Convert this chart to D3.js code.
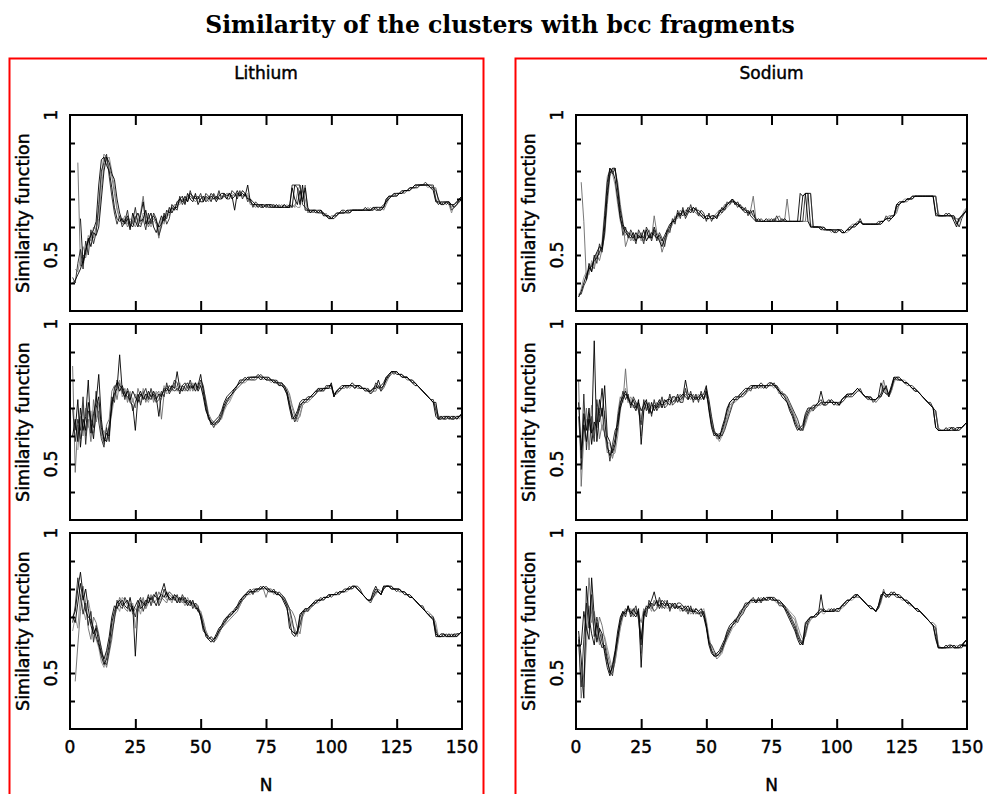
<!DOCTYPE html>
<html>
<head>
<meta charset="utf-8">
<script src="https://cdn.jsdelivr.net/npm/d3@7"></script>
<style>
  body { margin: 0; background: #fff; }
  svg { display: block; }
</style>
</head>
<body>
<svg id="chart" width="987" height="794"></svg>
<script>
// Cluster size N (x axis) and similarity values of five runs per panel.
const sizes = d3.range(1, 151);

// ---- Lithium, top panel ----
const li1a = [.40,.41,.43,.45,.48,.52,.55,.57,.59,.62, .75,.84,.85,.82,.80,.74,.67,.63,.62,.63, .61,.63,.59,.65,.62,.60,.64,.69,.61,.63, .65,.60,.58,.61,.64,.62,.66,.65,.67,.66, .69,.70,.71,.68,.72,.70,.69,.72,.68,.70, .71,.69,.70,.72,.71,.69,.71,.72,.72,.70, .72,.70,.71,.73,.71,.72,.71,.75,.69,.68, .68,.67,.68,.68,.67,.68,.68,.67,.67,.67, .67,.67,.67,.68,.67,.75,.74,.68,.75,.66, .66,.66,.66,.65,.66,.66,.64,.64,.63,.63, .64,.65,.65,.65,.65,.66,.66,.66,.66,.66, .66,.66,.66,.66,.66,.67,.67,.66,.67,.67, .70,.71,.71,.72,.72,.72,.72,.73,.73,.74, .74,.75,.75,.75,.75,.75,.75,.74,.73,.69, .69,.68,.69,.69,.68,.68,.68,.69,.70,.71];
const li1b = [null,null,.83,.46,.50,.49,.54,.58,.56,.60, .66,.78,.86,.85,.81,.78,.72,.66,.63,.61, .63,.60,.62,.61,.64,.62,.65,.71,.63,.60, .62,.63,.61,.56,.62,.63,.64,.66,.66,.68, .68,.69,.70,.70,.70,.71,.70,.69,.70,.71, .70,.70,.71,.70,.70,.70,.72,.71,.71,.72, .71,.71,.72,.71,.72,.71,.72,.71,.68,.68, .67,.68,.67,.68,.68,.67,.68,.68,.67,.67, .68,.67,.67,.67,.68,.67,.72,.75,.70,.75, .65,.66,.65,.66,.66,.65,.65,.64,.63,.64, .64,.65,.65,.66,.65,.65,.66,.66,.66,.66, .66,.66,.66,.67,.66,.66,.67,.67,.67,.66, .68,.70,.71,.71,.72,.72,.73,.72,.73,.73, .74,.74,.75,.75,.75,.75,.75,.75,.74,.74, .69,.69,.68,.69,.69,.67,.68,.69,.69,.70];
const li1c = [null,null,null,.63,.47,.51,.56,.53,.58,.57, .60,.70,.80,.85,.83,.79,.77,.70,.65,.62, .62,.64,.61,.60,.63,.65,.62,.63,.66,.61, .63,.64,.62,.60,.61,.64,.63,.67,.65,.67, .67,.70,.69,.71,.69,.72,.71,.70,.71,.69, .69,.71,.70,.71,.70,.71,.70,.70,.72,.71, .72,.71,.66,.72,.71,.73,.72,.70,.70,.69, .68,.68,.68,.67,.68,.68,.67,.67,.68,.67, .67,.68,.67,.67,.74,.70,.68,.73,.69,.74, .67,.65,.66,.66,.65,.66,.65,.64,.64,.63, .63,.64,.65,.65,.65,.66,.65,.66,.66,.66, .66,.66,.67,.66,.66,.67,.66,.66,.66,.67, .69,.70,.71,.71,.71,.72,.72,.73,.73,.73, .74,.74,.74,.75,.75,.75,.75,.74,.74,.73, .70,.68,.68,.69,.69,.68,.67,.68,.70,.71];
const li1d = [null,.45,.44,.49,.53,.50,.57,.55,.60,.59, .63,.74,.82,.84,.85,.80,.74,.67,.63,.62, .64,.61,.63,.62,.60,.63,.61,.65,.64,.62, .60,.62,.63,.58,.63,.61,.65,.64,.68,.66, .69,.68,.70,.69,.71,.70,.71,.70,.69,.70, .71,.70,.69,.71,.71,.70,.70,.71,.71,.72, .72,.72,.71,.72,.72,.71,.71,.72,.69,.68, .68,.67,.68,.68,.67,.67,.68,.67,.68,.67, .67,.67,.68,.67,.67,.68,.67,.67,.73,.70, .66,.66,.66,.65,.65,.66,.64,.65,.63,.63, .64,.64,.65,.65,.66,.65,.66,.66,.66,.66, .66,.66,.66,.66,.67,.66,.67,.67,.66,.67, .70,.70,.71,.71,.72,.72,.72,.72,.73,.73, .74,.74,.75,.75,.75,.75,.74,.75,.74,.69, .68,.69,.68,.69,.68,.65,.68,.69,.70,.70];
const li1e = [.42,.40,.47,.52,.45,.55,.50,.59,.54,.58, .68,.80,.83,.86,.78,.71,.65,.61,.64,.60, .62,.66,.60,.62,.67,.61,.60,.63,.59,.65, .61,.65,.63,.57,.60,.65,.61,.63,.68,.67, .66,.71,.68,.70,.69,.73,.70,.71,.70,.72, .69,.72,.71,.69,.72,.70,.73,.70,.71,.70, .70,.73,.72,.70,.73,.70,.72,.69,.70,.67, .69,.68,.67,.67,.68,.67,.67,.68,.67,.68, .67,.68,.67,.67,.75,.75,.75,.75,.68,.67, .66,.65,.66,.66,.65,.65,.65,.64,.64,.63, .64,.64,.65,.66,.66,.65,.65,.66,.66,.66, .66,.66,.66,.66,.66,.66,.67,.67,.67,.68, .69,.71,.71,.72,.71,.72,.73,.73,.73,.74, .74,.75,.75,.75,.75,.76,.75,.75,.75,.70, .68,.69,.69,.68,.69,.66,.67,.68,.69,.70];

// ---- Lithium, middle panel ----
const li2a = [.60,.66,.58,.70,.62,.67,.80,.61,.68,.72, .82,.66,.58,.61,.60,.72,.75,.77,.89,.76, .74,.76,.72,.71,.62,.74,.76,.73,.75,.74, .73,.76,.74,.67,.75,.76,.77,.76,.78,.77, .83,.77,.76,.78,.79,.77,.78,.76,.78,.82, .76,.70,.66,.65,.64,.65,.66,.68,.71,.73, .74,.75,.77,.78,.79,.80,.80,.81,.81,.81, .81,.82,.81,.81,.81,.81,.80,.80,.79,.79, .79,.78,.76,.72,.67,.66,.68,.71,.72,.73, .73,.74,.75,.76,.76,.77,.77,.77,.77,.79, .74,.76,.77,.78,.78,.78,.78,.79,.78,.78, .78,.77,.77,.76,.76,.77,.77,.80,.77,.78, .80,.82,.83,.83,.83,.82,.82,.81,.81,.80, .80,.79,.78,.77,.76,.75,.74,.73,.72,.67, .66,.67,.66,.67,.67,.66,.66,.67,.67,.68];
const li2b = [.85,.47,.64,.59,.71,.60,.66,.58,.73,.65, .69,.61,.57,.64,.66,.76,.78,.73,.79,.75, .77,.72,.75,.73,.70,.77,.74,.76,.72,.75, .76,.72,.75,.76,.66,.75,.78,.77,.76,.79, .76,.78,.77,.76,.78,.79,.76,.78,.77,.79, .77,.73,.68,.66,.65,.64,.65,.67,.70,.72, .73,.75,.76,.77,.78,.79,.80,.80,.80,.81, .81,.81,.81,.80,.81,.80,.80,.80,.80,.79, .78,.78,.77,.75,.71,.68,.66,.67,.71,.72, .73,.73,.74,.75,.76,.76,.76,.77,.77,.77, .75,.75,.76,.77,.77,.78,.78,.78,.78,.77, .77,.77,.76,.76,.75,.76,.76,.78,.76,.77, .79,.81,.82,.83,.83,.82,.82,.81,.80,.80, .79,.79,.78,.77,.76,.75,.74,.73,.72,.70, .67,.67,.67,.66,.67,.67,.66,.67,.67,.68];
const li2c = [null,.62,.73,.56,.66,.62,.72,.65,.59,.70, .74,.63,.59,.58,.64,.70,.77,.79,.76,.78, .75,.74,.73,.76,.74,.72,.75,.74,.73,.76, .74,.75,.73,.75,.74,.77,.76,.78,.77,.76, .77,.76,.78,.77,.76,.78,.77,.79,.76,.78, .74,.69,.67,.64,.65,.66,.67,.69,.72,.74, .75,.76,.77,.78,.80,.80,.81,.80,.81,.81, .81,.81,.80,.81,.80,.80,.80,.79,.79,.78, .78,.77,.75,.70,.66,.67,.69,.72,.73,.73, .74,.74,.75,.76,.77,.76,.77,.77,.78,.78, .74,.76,.77,.77,.78,.78,.78,.78,.77,.78, .77,.77,.77,.76,.76,.77,.78,.77,.78,.79, .81,.82,.83,.83,.82,.82,.81,.81,.81,.80, .79,.78,.78,.77,.76,.75,.74,.73,.72,.72, .66,.66,.67,.67,.66,.67,.67,.66,.67,.68];
const li2d = [null,null,.55,.67,.60,.70,.63,.69,.61,.66, .72,.60,.62,.58,.62,.68,.74,.76,.80,.74, .76,.73,.76,.72,.75,.73,.72,.77,.74,.72, .75,.73,.76,.74,.73,.78,.75,.76,.78,.77, .78,.79,.76,.77,.78,.76,.79,.77,.79,.78, .75,.71,.67,.66,.64,.64,.66,.66,.69,.71, .72,.74,.76,.77,.78,.79,.79,.80,.81,.80, .81,.81,.81,.81,.80,.80,.79,.80,.79,.79, .78,.78,.76,.74,.70,.67,.65,.68,.71,.72, .72,.73,.74,.75,.76,.76,.77,.77,.77,.78, .75,.75,.76,.77,.77,.78,.77,.78,.78,.78, .77,.77,.77,.77,.76,.76,.77,.78,.77,.78, .80,.81,.82,.83,.83,.82,.82,.81,.81,.80, .80,.79,.78,.77,.76,.75,.74,.73,.72,.71, .67,.66,.66,.67,.66,.66,.67,.67,.66,.68];
const li2e = [.70,.58,.66,.62,.74,.57,.69,.66,.63,.76, .65,.59,.56,.63,.58,.74,.72,.80,.78,.77, .73,.77,.74,.69,.72,.75,.71,.75,.77,.73, .77,.74,.72,.73,.76,.74,.79,.75,.77,.80, .79,.75,.78,.79,.77,.80,.77,.79,.77,.80, .78,.72,.67,.65,.63,.65,.65,.67,.70,.72, .74,.75,.76,.78,.79,.79,.80,.81,.80,.80, .80,.81,.82,.81,.80,.81,.80,.79,.80,.78, .79,.77,.75,.71,.68,.65,.67,.70,.72,.72, .73,.74,.74,.75,.77,.77,.76,.78,.78,.78, .75,.76,.76,.77,.78,.77,.78,.78,.77,.78, .78,.77,.76,.77,.75,.76,.79,.78,.76,.78, .81,.81,.83,.82,.83,.82,.81,.81,.81,.80, .79,.79,.78,.77,.76,.75,.74,.73,.73,.69, .66,.67,.66,.66,.67,.66,.67,.66,.67,.68];

// ---- Lithium, bottom panel ----
const li3a = [.70,.72,.80,.86,.78,.72,.70,.69,.66,.63, .60,.56,.53,.55,.60,.68,.72,.75,.76,.74, .75,.76,.72,.74,.56,.73,.76,.75,.74,.77, .76,.78,.77,.76,.79,.82,.78,.77,.76,.78, .77,.76,.77,.75,.76,.75,.75,.74,.72,.71, .67,.63,.62,.61,.62,.64,.66,.67,.69,.70, .70,.71,.72,.73,.75,.77,.78,.79,.79,.79, .80,.80,.80,.81,.80,.80,.79,.79,.79,.78, .77,.76,.74,.66,.65,.64,.64,.70,.72,.72, .73,.74,.75,.76,.76,.76,.77,.77,.77,.78, .78,.78,.79,.79,.79,.80,.80,.81,.81,.80, .79,.78,.77,.76,.76,.79,.81,.79,.78,.80, .81,.81,.81,.80,.80,.80,.79,.79,.78,.78, .77,.76,.75,.74,.73,.72,.71,.70,.69,.63, .63,.63,.64,.63,.63,.64,.63,.63,.64,.65];
const li3b = [null,.47,.60,.72,.81,.75,.66,.62,.70,.68, .64,.58,.55,.52,.57,.62,.70,.73,.77,.75, .73,.72,.75,.71,.73,.72,.74,.77,.73,.75, .78,.75,.76,.79,.77,.76,.75,.78,.77,.76, .76,.77,.75,.76,.74,.76,.74,.75,.73,.72, .69,.65,.63,.62,.61,.62,.64,.66,.67,.68, .69,.70,.71,.72,.74,.76,.78,.78,.79,.80, .80,.79,.80,.80,.77,.80,.80,.79,.78,.78, .77,.77,.75,.73,.72,.70,.66,.64,.70,.72, .72,.73,.75,.75,.76,.76,.76,.77,.77,.78, .78,.78,.78,.79,.79,.80,.80,.80,.81,.80, .79,.78,.77,.76,.76,.77,.78,.80,.79,.80, .81,.81,.80,.80,.80,.79,.79,.78,.78,.77, .77,.76,.75,.74,.73,.72,.71,.71,.70,.66, .63,.64,.63,.63,.64,.63,.63,.64,.64,.65];
const li3c = [.70,.68,.75,.82,.76,.80,.73,.67,.64,.66, .61,.57,.55,.58,.63,.70,.74,.73,.75,.76, .74,.73,.77,.72,.74,.76,.73,.74,.76,.75, .77,.76,.74,.77,.78,.77,.79,.76,.77,.77, .75,.77,.76,.77,.75,.74,.76,.73,.73,.70, .66,.64,.62,.63,.62,.63,.65,.66,.68,.69, .71,.72,.72,.74,.76,.77,.78,.78,.79,.79, .79,.80,.80,.81,.80,.79,.79,.79,.78,.78, .77,.75,.73,.69,.64,.63,.65,.71,.72,.73, .73,.74,.75,.75,.76,.76,.77,.77,.78,.78, .78,.78,.79,.79,.80,.80,.80,.81,.81,.80, .79,.78,.77,.76,.76,.78,.80,.79,.78,.81, .81,.81,.80,.80,.80,.80,.79,.79,.78,.77, .77,.76,.75,.74,.73,.72,.71,.70,.69,.64, .63,.63,.63,.64,.63,.63,.64,.63,.64,.65];
const li3d = [.65,.70,.66,.78,.73,.69,.76,.71,.65,.62, .59,.54,.52,.57,.61,.66,.71,.74,.72,.77, .76,.74,.72,.75,.66,.74,.71,.76,.73,.76, .75,.77,.78,.75,.77,.78,.76,.77,.75,.78, .76,.75,.76,.74,.77,.75,.74,.74,.72,.72, .68,.65,.63,.62,.62,.63,.64,.66,.67,.69, .70,.71,.72,.73,.74,.76,.77,.78,.78,.79, .79,.79,.80,.80,.80,.80,.80,.78,.79,.78, .78,.76,.74,.72,.67,.66,.63,.68,.71,.72, .72,.73,.74,.75,.75,.76,.76,.77,.77,.78, .78,.78,.78,.79,.79,.79,.80,.80,.81,.80, .79,.78,.77,.76,.76,.77,.79,.79,.78,.80, .81,.81,.81,.80,.80,.79,.79,.78,.78,.77, .77,.76,.75,.74,.73,.72,.72,.71,.70,.68, .63,.63,.64,.63,.63,.63,.64,.64,.64,.65];
const li3e = [.68,.74,.84,.77,.71,.75,.67,.72,.61,.67, .63,.59,.54,.53,.58,.64,.69,.76,.74,.73, .77,.75,.74,.73,.70,.75,.77,.72,.75,.78, .74,.77,.79,.74,.76,.80,.77,.79,.78,.76, .78,.75,.78,.76,.74,.76,.73,.75,.74,.70, .65,.64,.63,.62,.61,.63,.65,.67,.68,.70, .71,.71,.73,.74,.75,.76,.77,.79,.80,.78, .80,.80,.81,.80,.81,.80,.79,.80,.78,.79, .78,.77,.75,.73,.69,.64,.65,.67,.71,.73, .72,.74,.74,.75,.76,.77,.76,.77,.78,.77, .78,.79,.78,.79,.79,.80,.81,.80,.81,.81, .80,.78,.77,.76,.75,.77,.79,.79,.78,.81, .81,.81,.80,.80,.79,.80,.79,.78,.78,.77, .77,.76,.75,.74,.74,.72,.71,.70,.70,.65, .63,.64,.64,.63,.64,.63,.63,.64,.64,.65];

// ---- Sodium, top panel ----
const na1a = [.35,.37,.40,.43,.45,.46,.48,.49,.51,.53, .64,.76,.81,.80,.77,.70,.63,.60,.58,.57, .56,.58,.55,.57,.56,.59,.55,.57,.56,.60, .57,.55,.53,.56,.58,.60,.62,.63,.64,.65, .64,.65,.67,.66,.67,.66,.65,.64,.63,.64, .64,.63,.63,.64,.65,.66,.67,.68,.69,.69, .69,.68,.67,.67,.66,.65,.65,.66,.62,.62, .62,.62,.62,.62,.62,.63,.62,.62,.62,.63, .62,.62,.62,.62,.62,.72,.71,.72,.62,.60, .60,.60,.60,.60,.59,.59,.59,.59,.59,.59, .59,.59,.58,.59,.60,.60,.61,.61,.62,.61, .61,.61,.61,.61,.61,.61,.61,.62,.63,.63, .63,.64,.68,.69,.69,.69,.70,.70,.70,.71, .71,.71,.71,.71,.71,.71,.71,.65,.64,.64, .64,.64,.64,.64,.64,.61,.63,.64,.65,.66];
const na1b = [null,.76,.62,.41,.44,.47,.45,.50,.48,.52, .57,.68,.78,.81,.80,.76,.68,.62,.53,.56, .58,.55,.57,.56,.58,.55,.57,.59,.56,.64, .58,.56,.51,.54,.57,.59,.61,.64,.63,.66, .65,.66,.66,.67,.66,.65,.64,.64,.64,.63, .63,.64,.64,.65,.66,.66,.68,.68,.69,.70, .68,.68,.67,.66,.66,.65,.66,.71,.63,.62, .62,.62,.62,.63,.62,.62,.63,.64,.62,.62, .70,.62,.62,.62,.62,.62,.62,.62,.72,.72, .60,.60,.60,.59,.59,.59,.59,.59,.59,.58, .59,.58,.58,.59,.60,.61,.61,.62,.62,.61, .61,.61,.61,.61,.61,.61,.62,.62,.63,.64, .64,.64,.65,.68,.69,.69,.69,.70,.70,.71, .71,.71,.71,.71,.71,.71,.71,.71,.64,.64, .64,.64,.64,.64,.63,.63,.62,.64,.65,.67];
const na1c = [null,null,null,.41,.47,.44,.49,.51,.53,.52, .60,.71,.79,.81,.81,.74,.66,.61,.59,.58, .57,.56,.58,.56,.57,.56,.59,.56,.58,.57, .56,.57,.55,.57,.59,.61,.62,.62,.65,.64, .66,.64,.66,.65,.67,.66,.66,.65,.64,.63, .63,.64,.64,.63,.65,.67,.66,.68,.69,.70, .68,.69,.67,.66,.65,.66,.64,.63,.62,.63, .62,.62,.63,.62,.62,.62,.62,.62,.63,.62, .62,.62,.62,.62,.62,.62,.71,.72,.72,.60, .60,.60,.60,.59,.60,.59,.59,.59,.58,.59, .59,.58,.58,.59,.59,.60,.61,.61,.62,.61, .61,.61,.61,.61,.61,.61,.62,.62,.63,.62, .63,.64,.68,.68,.69,.69,.70,.70,.71,.71, .71,.71,.71,.71,.71,.71,.71,.64,.64,.64, .64,.64,.65,.64,.62,.60,.63,.64,.65,.66];
const na1d = [.35,.38,.42,.44,.43,.48,.46,.51,.50,.55, .66,.78,.80,.79,.75,.68,.62,.59,.57,.58, .55,.57,.56,.58,.55,.57,.58,.56,.57,.58, .56,.56,.54,.55,.57,.59,.61,.63,.64,.64, .65,.64,.65,.66,.66,.65,.65,.64,.63,.64, .64,.63,.64,.64,.64,.65,.66,.67,.68,.69, .69,.68,.68,.67,.66,.65,.65,.64,.63,.62, .62,.62,.62,.62,.62,.62,.62,.62,.62,.62, .62,.62,.62,.62,.62,.62,.62,.62,.62,.61, .60,.60,.60,.60,.59,.59,.59,.58,.59,.59, .59,.58,.58,.58,.59,.60,.60,.61,.62,.61, .61,.61,.61,.61,.61,.61,.61,.62,.63,.63, .64,.64,.66,.68,.69,.70,.70,.70,.70,.71, .71,.71,.71,.71,.71,.71,.71,.71,.65,.64, .64,.64,.64,.64,.64,.63,.63,.64,.66,.67];
const na1e = [.36,.36,.39,.41,.46,.44,.50,.47,.54,.51, .58,.73,.81,.79,.81,.73,.64,.57,.60,.56, .59,.57,.54,.59,.57,.54,.60,.58,.55,.59, .55,.58,.56,.53,.59,.58,.63,.61,.66,.63, .67,.63,.65,.68,.65,.67,.64,.66,.65,.62, .65,.62,.64,.63,.66,.65,.67,.69,.68,.70, .69,.67,.68,.66,.67,.64,.66,.64,.63,.62, .63,.62,.62,.62,.63,.62,.64,.62,.62,.62, .62,.62,.62,.62,.62,.62,.62,.72,.72,.72, .60,.60,.60,.60,.60,.59,.59,.59,.58,.58, .59,.58,.58,.59,.59,.60,.60,.61,.63,.61, .61,.61,.61,.61,.61,.62,.62,.62,.64,.63, .64,.64,.67,.68,.69,.69,.70,.70,.71,.71, .71,.71,.71,.71,.71,.71,.71,.71,.64,.64, .64,.65,.64,.64,.63,.62,.60,.63,.65,.66];

// ---- Sodium, middle panel ----
const na2a = [.72,.55,.64,.58,.66,.61,.94,.58,.68,.77, .66,.56,.53,.55,.59,.66,.72,.74,.76,.73, .72,.71,.69,.73,.57,.69,.72,.70,.68,.71, .70,.72,.71,.72,.73,.73,.72,.73,.74,.73, .74,.80,.75,.74,.73,.74,.73,.74,.75,.78, .70,.64,.61,.60,.60,.62,.65,.69,.72,.73, .73,.74,.74,.75,.76,.77,.77,.78,.78,.78, .78,.78,.78,.78,.79,.78,.78,.76,.75,.74, .72,.70,.68,.65,.63,.62,.63,.67,.69,.70, .70,.71,.71,.72,.71,.72,.72,.72,.72,.72, .71,.73,.74,.74,.75,.75,.76,.77,.76,.75, .74,.74,.73,.73,.73,.74,.74,.76,.78,.74, .77,.81,.81,.80,.80,.79,.79,.78,.77,.77, .76,.75,.74,.73,.72,.71,.70,.63,.62,.62, .62,.62,.62,.63,.62,.62,.63,.63,.64,.65];
const na2b = [.80,.42,.60,.70,.55,.67,.62,.70,.59,.64, .61,.54,.55,.52,.56,.68,.74,.72,.84,.72, .73,.70,.72,.71,.66,.72,.70,.69,.71,.70, .72,.70,.73,.71,.72,.74,.73,.72,.73,.75, .73,.75,.74,.73,.75,.73,.74,.73,.74,.74, .72,.66,.62,.59,.59,.61,.64,.67,.71,.72, .73,.73,.75,.75,.76,.76,.77,.77,.77,.78, .78,.78,.77,.78,.78,.78,.77,.75,.76,.74, .73,.71,.69,.66,.64,.62,.62,.65,.68,.69, .70,.70,.71,.72,.72,.72,.72,.73,.72,.71, .72,.73,.74,.74,.74,.75,.76,.77,.76,.75, .74,.73,.73,.73,.72,.73,.75,.80,.76,.74, .76,.80,.81,.81,.80,.79,.78,.78,.77,.76, .76,.75,.74,.73,.72,.71,.70,.69,.63,.62, .62,.62,.63,.63,.62,.62,.62,.63,.64,.65];
const na2c = [null,.48,.68,.62,.70,.57,.65,.63,.73,.67, .78,.60,.58,.54,.57,.63,.70,.73,.75,.74, .71,.73,.70,.72,.69,.71,.73,.68,.72,.69, .71,.73,.70,.73,.72,.71,.74,.74,.72,.74, .75,.74,.73,.75,.74,.73,.74,.75,.73,.76, .69,.63,.60,.61,.59,.63,.66,.70,.72,.73, .74,.74,.75,.76,.77,.77,.78,.78,.78,.77, .78,.77,.78,.79,.79,.78,.77,.76,.74,.73, .72,.69,.67,.64,.62,.63,.64,.68,.70,.70, .71,.71,.72,.76,.72,.72,.73,.72,.71,.72, .71,.73,.74,.75,.75,.75,.76,.77,.76,.75, .74,.74,.74,.73,.73,.74,.79,.76,.75,.75, .78,.81,.80,.80,.80,.79,.79,.78,.77,.76, .76,.75,.74,.73,.72,.71,.70,.63,.62,.62, .62,.63,.62,.62,.62,.63,.63,.63,.64,.65];
const na2d = [null,null,.58,.66,.62,.71,.60,.66,.70,.62, .69,.58,.57,.53,.54,.60,.69,.74,.77,.72, .74,.72,.71,.70,.60,.70,.71,.69,.70,.72, .71,.70,.72,.71,.73,.72,.74,.73,.74,.72, .74,.76,.74,.73,.74,.73,.75,.73,.74,.75, .71,.65,.62,.60,.58,.60,.63,.66,.69,.72, .72,.73,.74,.75,.75,.76,.77,.77,.78,.78, .77,.78,.78,.78,.78,.77,.78,.77,.75,.75, .73,.71,.69,.67,.64,.63,.62,.64,.67,.69, .69,.70,.71,.71,.72,.71,.72,.72,.72,.71, .71,.72,.73,.74,.74,.75,.75,.76,.76,.75, .74,.74,.73,.73,.72,.73,.74,.78,.75,.74, .76,.79,.81,.80,.80,.80,.79,.78,.77,.77, .76,.75,.74,.73,.72,.71,.70,.68,.63,.62, .62,.62,.62,.62,.63,.62,.62,.63,.64,.65];
const na2e = [.67,.52,.75,.55,.68,.64,.58,.73,.65,.70, .60,.58,.51,.57,.62,.64,.71,.76,.73,.75, .70,.74,.72,.69,.64,.73,.69,.72,.67,.73, .69,.71,.74,.70,.71,.75,.71,.72,.75,.72, .72,.77,.73,.76,.72,.75,.72,.76,.73,.77, .73,.67,.62,.60,.61,.60,.62,.65,.68,.71, .73,.73,.74,.74,.75,.77,.76,.78,.77,.78, .79,.78,.77,.78,.78,.79,.77,.76,.75,.75, .74,.72,.70,.68,.66,.63,.62,.66,.68,.70, .69,.71,.72,.73,.71,.71,.72,.73,.72,.72, .72,.72,.73,.75,.74,.74,.75,.76,.77,.75, .74,.73,.74,.72,.73,.74,.75,.77,.77,.75, .77,.80,.81,.81,.80,.79,.79,.78,.78,.77, .76,.75,.74,.73,.72,.72,.70,.69,.62,.62, .62,.62,.62,.63,.63,.62,.62,.63,.64,.65];

// ---- Sodium, bottom panel ----
const na3a = [.65,.55,.41,.81,.70,.64,.60,.68,.62,.59, .60,.55,.50,.52,.57,.63,.68,.71,.72,.73, .72,.71,.70,.73,.52,.70,.73,.74,.76,.79, .75,.74,.76,.75,.74,.75,.74,.73,.74,.73, .73,.74,.72,.73,.72,.72,.71,.72,.70,.66, .60,.57,.56,.56,.57,.59,.61,.64,.66,.67, .68,.70,.71,.73,.74,.75,.76,.76,.76,.76, .76,.76,.77,.77,.77,.76,.76,.75,.75,.74, .72,.70,.68,.66,.63,.61,.60,.67,.69,.70, .70,.70,.71,.78,.72,.72,.72,.72,.72,.73, .73,.74,.75,.76,.76,.77,.77,.78,.77,.76, .75,.74,.74,.73,.72,.74,.77,.79,.78,.78, .78,.79,.78,.78,.77,.76,.75,.75,.74,.73, .73,.72,.71,.70,.69,.68,.67,.62,.59,.59, .59,.59,.59,.60,.59,.59,.59,.60,.61,.62];
const na3b = [.63,.41,.50,.66,.84,.71,.65,.63,.70,.67, .62,.57,.53,.50,.54,.60,.66,.70,.73,.72, .73,.70,.72,.71,.68,.73,.71,.75,.73,.76, .74,.76,.73,.76,.75,.74,.75,.74,.73,.74, .74,.72,.73,.72,.73,.71,.72,.71,.72,.68, .62,.58,.57,.55,.56,.58,.60,.63,.65,.67, .68,.69,.71,.72,.74,.75,.76,.75,.76,.76, .77,.76,.76,.77,.76,.77,.76,.75,.74,.74, .73,.71,.70,.69,.65,.62,.61,.65,.68,.69, .70,.71,.71,.72,.72,.72,.73,.72,.73,.72, .73,.74,.75,.75,.76,.77,.78,.77,.77,.76, .75,.74,.73,.73,.72,.73,.76,.80,.77,.78, .78,.78,.78,.77,.77,.76,.76,.75,.74,.73, .73,.72,.71,.70,.69,.68,.68,.67,.60,.59, .59,.59,.60,.59,.59,.59,.60,.60,.61,.62];
const na3c = [null,.60,.72,.66,.62,.84,.70,.61,.66,.64, .57,.52,.49,.53,.58,.65,.70,.72,.71,.74, .71,.73,.71,.72,.62,.71,.74,.73,.75,.74, .76,.73,.75,.74,.75,.73,.74,.75,.73,.74, .72,.73,.74,.72,.72,.73,.72,.73,.71,.67, .61,.58,.56,.57,.58,.60,.62,.65,.67,.68, .69,.70,.72,.73,.75,.75,.76,.76,.75,.76, .76,.77,.76,.77,.76,.76,.76,.76,.75,.73, .71,.69,.67,.65,.62,.60,.61,.68,.69,.70, .70,.71,.72,.73,.72,.72,.72,.73,.72,.73, .73,.74,.75,.76,.76,.77,.78,.78,.77,.76, .75,.74,.73,.73,.72,.74,.78,.78,.77,.78, .79,.78,.78,.77,.77,.76,.75,.75,.74,.73, .72,.72,.71,.70,.69,.68,.67,.63,.59,.59, .59,.60,.59,.59,.60,.59,.59,.59,.61,.62];
const na3d = [null,null,.45,.60,.74,.68,.72,.66,.60,.64, .63,.59,.55,.51,.54,.61,.67,.71,.73,.72, .72,.71,.73,.70,.57,.69,.72,.74,.72,.75, .75,.74,.74,.75,.73,.74,.73,.74,.74,.72, .73,.72,.73,.71,.72,.72,.71,.72,.73,.69, .63,.59,.57,.57,.56,.57,.60,.62,.64,.66, .67,.69,.70,.72,.73,.75,.75,.76,.76,.75, .76,.76,.76,.77,.77,.76,.75,.75,.74,.74, .73,.72,.71,.70,.67,.64,.62,.63,.67,.69, .70,.70,.71,.72,.71,.72,.72,.72,.72,.72, .73,.73,.74,.75,.76,.76,.77,.77,.77,.76, .75,.74,.74,.73,.72,.73,.75,.79,.78,.77, .78,.78,.78,.77,.76,.76,.75,.74,.74,.73, .72,.72,.71,.70,.69,.68,.67,.66,.60,.59, .59,.59,.59,.60,.59,.60,.59,.60,.61,.62];
const na3e = [.62,.45,.62,.75,.66,.78,.63,.70,.65,.61, .58,.54,.51,.49,.56,.62,.69,.72,.70,.74, .70,.72,.74,.69,.60,.72,.70,.76,.74,.72, .73,.77,.74,.73,.76,.72,.75,.73,.75,.75, .74,.73,.71,.74,.71,.73,.72,.70,.72,.67, .61,.60,.58,.56,.57,.58,.61,.63,.65,.67, .69,.68,.70,.71,.73,.74,.76,.77,.75,.77, .75,.77,.76,.76,.77,.77,.76,.74,.74,.73, .72,.71,.69,.67,.64,.62,.60,.64,.68,.70, .70,.71,.71,.72,.73,.72,.72,.72,.73,.72, .72,.74,.74,.75,.76,.77,.77,.78,.77,.76, .75,.74,.73,.73,.72,.73,.76,.79,.78,.77, .78,.78,.77,.77,.77,.76,.76,.75,.74,.73, .73,.72,.71,.70,.69,.68,.67,.66,.59,.59, .59,.59,.60,.60,.59,.59,.60,.60,.61,.62];

const elements = ["Lithium", "Sodium"];
const panelRuns = [
  [[li1a, li1b, li1c, li1d, li1e], [li2a, li2b, li2c, li2d, li2e], [li3a, li3b, li3c, li3d, li3e]],
  [[na1a, na1b, na1c, na1d, na1e], [na2a, na2b, na2c, na2d, na2e], [na3a, na3b, na3c, na3d, na3e]]
];
const xTickValues = [0, 25, 50, 75, 100, 125, 150];
const yLabelValues = [0.5, 1];
const yMinorValues = [0.4, 0.5, 0.6, 0.7, 0.8, 0.9];
const runColors = ["#000000", "#6a6a6a", "#000000", "#8a8a8a", "#262626"];
const drawOrder = [1, 3, 4, 0, 2];

const svg = d3.select("#chart");
const sansFont = "'DejaVu Sans', 'Liberation Sans', sans-serif";

// thicken the sans labels slightly with a thin outline
const labelText = sel => sel
  .style("font-family", sansFont)
  .attr("fill", "#000").attr("stroke", "#000").attr("stroke-width", 0.45);

svg.append("text")
  .attr("x", 500).attr("y", 33)
  .attr("text-anchor", "middle")
  .style("font-family", "'DejaVu Serif', 'Liberation Serif', serif")
  .style("font-weight", "bold")
  .style("font-size", "23.5px")
  .text("Similarity of the clusters with bcc fragments");

const columns = [
  { frameX: 9.5, frameW: 474, plotX0: 70, plotX1: 462 },
  { frameX: 515.5, frameW: 520, plotX0: 576, plotX1: 967 }
];
const rowTops = [115, 324, 533];
const rowH = 196;

columns.forEach((col, ci) => {
  const g = svg.append("g");
  // red outline around each element's column
  g.append("rect")
    .attr("x", col.frameX).attr("y", 58.5)
    .attr("width", col.frameW).attr("height", 800)
    .attr("fill", "none").attr("stroke", "#ff0000").attr("stroke-width", 2);

  const midX = (col.plotX0 + col.plotX1) / 2;
  g.append("text")
    .attr("x", midX).attr("y", 78.5)
    .attr("text-anchor", "middle")
    .style("font-size", "17px")
    .call(labelText)
    .text(elements[ci]);

  const x = d3.scaleLinear().domain([0, 150]).range([col.plotX0, col.plotX1]);

  rowTops.forEach((top, ri) => {
    const y = d3.scaleLinear().domain([0.3, 1]).range([top + rowH, top]);
    const pg = g.append("g");

    const line = d3.line()
      .defined(d => d[1] != null)
      .x(d => x(d[0]))
      .y(d => y(d[1]));

    const runs = panelRuns[ci][ri];
    // grey runs underneath, black runs on top
    drawOrder.forEach(k => {
      const pts = sizes.map((n, i) => [n, runs[k][i]]);
      pg.append("path")
        .attr("d", line(pts))
        .attr("fill", "none")
        .attr("stroke", runColors[k])
        .attr("stroke-width", 0.9)
        .attr("stroke-linejoin", "round");
    });

    // ticks on all four sides, pointing inward
    const tickStyle = sel => {
      sel.select(".domain").remove();
      sel.selectAll(".tick line").attr("stroke", "#000").attr("stroke-width", 2);
      sel.selectAll(".tick text").remove();
    };
    pg.append("g").attr("transform", `translate(${col.plotX0},0)`)
      .call(d3.axisLeft(y).tickValues(yMinorValues).tickSize(-5)).call(tickStyle);
    pg.append("g").attr("transform", `translate(${col.plotX1},0)`)
      .call(d3.axisRight(y).tickValues(yMinorValues).tickSize(-5)).call(tickStyle);
    pg.append("g").attr("transform", `translate(0,${top})`)
      .call(d3.axisTop(x).tickValues(xTickValues.slice(1, -1)).tickSize(-10)).call(tickStyle);
    pg.append("g").attr("transform", `translate(0,${top + rowH})`)
      .call(d3.axisBottom(x).tickValues(xTickValues.slice(1, -1)).tickSize(-10)).call(tickStyle);

    pg.append("rect")
      .attr("x", col.plotX0).attr("y", top)
      .attr("width", col.plotX1 - col.plotX0).attr("height", rowH)
      .attr("fill", "none").attr("stroke", "#000").attr("stroke-width", 2);

    // rotated y labels
    yLabelValues.forEach(v => {
      pg.append("text")
        .attr("transform", `translate(${col.plotX0 - 13},${y(v)}) rotate(-90)`)
        .attr("text-anchor", "middle")
        .style("font-size", "17px")
        .call(labelText)
        .text(String(v));
    });
    pg.append("text")
      .attr("transform", `translate(${col.plotX0 - 41},${top + rowH / 2}) rotate(-90)`)
      .attr("text-anchor", "middle")
      .style("font-size", "17.5px")
      .call(labelText)
      .text("Similarity  function");

    if (ri === rowTops.length - 1) {
      xTickValues.forEach(v => {
        pg.append("text")
          .attr("x", x(v)).attr("y", top + rowH + 24)
          .attr("text-anchor", "middle")
          .style("font-size", "17px")
          .call(labelText)
          .text(v);
      });
      pg.append("text")
        .attr("x", midX).attr("y", top + rowH + 62)
        .attr("text-anchor", "middle")
        .style("font-size", "17px")
        .call(labelText)
        .text("N");
    }
  });
});
</script>
</body>
</html>
